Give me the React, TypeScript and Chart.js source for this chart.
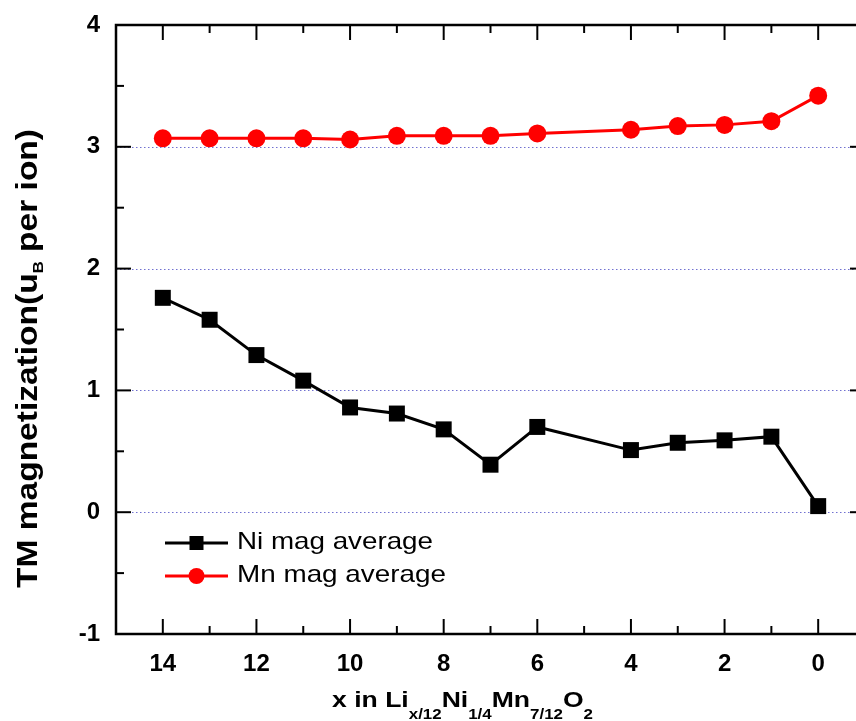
import React, { useEffect, useRef } from 'react';
import { Chart, registerables } from 'chart.js';

Chart.register(...registerables);

// ---- data ----
const xValues = [14, 13, 12, 11, 10, 9, 8, 7, 6, 4, 3, 2, 1, 0];
const niMag = [1.76, 1.58, 1.29, 1.08, 0.86, 0.81, 0.68, 0.39, 0.7, 0.51, 0.57, 0.59, 0.62, 0.05];
const mnMag = [3.07, 3.07, 3.07, 3.07, 3.06, 3.09, 3.09, 3.09, 3.11, 3.14, 3.17, 3.18, 3.21, 3.42];
const seriesNames = ['Ni mag average', 'Mn mag average'];
const xTickValues = [14, 12, 10, 8, 6, 4, 2, 0];
const xMinorTickValues = [13, 11, 9, 7, 5, 3, 1];
const yTickValues = [-1, 0, 1, 2, 3, 4];
const yMinorTickValues = [-0.5, 0.5, 1.5, 2.5, 3.5];
const yGridValues = [0, 1, 2, 3];

const FONT = "'Liberation Sans', Arial, Helvetica, sans-serif";

type Seg = { t: string; sub: boolean };
const xTitleSegs: Seg[] = [
  { t: 'x in Li', sub: false },
  { t: 'x/12', sub: true },
  { t: 'Ni', sub: false },
  { t: '1/4', sub: true },
  { t: 'Mn', sub: false },
  { t: '7/12', sub: true },
  { t: 'O', sub: false },
  { t: '2', sub: true },
];
const yTitleSegs: Seg[] = [
  { t: 'TM magnetization(u', sub: false },
  { t: 'B', sub: true },
  { t: ' per ion)', sub: false },
];

function drawSegs(
  ctx: CanvasRenderingContext2D,
  segs: Seg[],
  mainFont: string,
  subFont: string,
  subOffset: number,
  targetWidth: number
) {
  let total = 0;
  const widths = segs.map((s) => {
    ctx.font = s.sub ? subFont : mainFont;
    const w = ctx.measureText(s.t).width;
    total += w;
    return w;
  });
  const sx = targetWidth / total;
  ctx.save();
  ctx.scale(sx, 1);
  let x = 0;
  segs.forEach((s, i) => {
    ctx.font = s.sub ? subFont : mainFont;
    ctx.fillText(s.t, x, s.sub ? subOffset : 0);
    x += widths[i];
  });
  ctx.restore();
}

const decorPlugin = {
  id: 'decor',
  beforeDatasetsDraw(chart: any) {
    const ctx = chart.ctx as CanvasRenderingContext2D;
    const { left, right } = chart.chartArea;
    const ys = chart.scales.y;
    ctx.save();
    ctx.strokeStyle = '#7070d0';
    ctx.lineWidth = 1;
    ctx.setLineDash([1.5, 2.5]);
    yGridValues.forEach((v) => {
      const py = Math.round(ys.getPixelForValue(v)) + 0.5;
      ctx.beginPath();
      ctx.moveTo(left, py);
      ctx.lineTo(right, py);
      ctx.stroke();
    });
    ctx.restore();
  },
  afterDraw(chart: any) {
    const ctx = chart.ctx as CanvasRenderingContext2D;
    const { left, right, top, bottom } = chart.chartArea;
    const xs = chart.scales.x;
    const ys = chart.scales.y;
    ctx.save();
    // frame
    ctx.strokeStyle = '#000';
    ctx.lineWidth = 2.5;
    ctx.strokeRect(left, top, right - left, bottom - top);
    // ticks
    ctx.lineWidth = 2;
    const tick = (x1: number, y1: number, x2: number, y2: number) => {
      ctx.beginPath();
      ctx.moveTo(x1, y1);
      ctx.lineTo(x2, y2);
      ctx.stroke();
    };
    xTickValues.forEach((v) => {
      const px = xs.getPixelForValue(v);
      tick(px, bottom, px, bottom - 15);
      tick(px, top, px, top + 15);
    });
    xMinorTickValues.forEach((v) => {
      const px = xs.getPixelForValue(v);
      tick(px, bottom, px, bottom - 8);
      tick(px, top, px, top + 8);
    });
    yTickValues.forEach((v) => {
      const py = ys.getPixelForValue(v);
      tick(left, py, left + 15, py);
      tick(right, py, right - 15, py);
    });
    yMinorTickValues.forEach((v) => {
      const py = ys.getPixelForValue(v);
      tick(left, py, left + 8, py);
      tick(right, py, right - 8, py);
    });

    // legend
    const rows = [
      { y: 543, text: seriesNames[0], color: '#000', style: 'rect', base: 549, width: 196 },
      { y: 576, text: seriesNames[1], color: '#ff0000', style: 'circle', base: 582, width: 209 },
    ];
    rows.forEach((r) => {
      ctx.strokeStyle = r.color;
      ctx.fillStyle = r.color;
      ctx.lineWidth = 3;
      ctx.beginPath();
      ctx.moveTo(165, r.y);
      ctx.lineTo(228, r.y);
      ctx.stroke();
      if (r.style === 'rect') {
        ctx.fillRect(196.5 - 7, r.y - 7, 14, 14);
      } else {
        ctx.beginPath();
        ctx.arc(196.5, r.y, 8, 0, Math.PI * 2);
        ctx.fill();
      }
      ctx.fillStyle = '#000';
      ctx.font = `24px ${FONT}`;
      ctx.textBaseline = 'alphabetic';
      ctx.textAlign = 'left';
      const w = ctx.measureText(r.text).width;
      ctx.save();
      ctx.translate(237, r.base);
      ctx.scale(r.width / w, 1);
      ctx.fillText(r.text, 0, 0);
      ctx.restore();
    });

    // x title
    ctx.fillStyle = '#000';
    ctx.textAlign = 'left';
    ctx.textBaseline = 'alphabetic';
    ctx.save();
    ctx.translate(332, 707);
    drawSegs(ctx, xTitleSegs, `bold 22px ${FONT}`, `bold 14px ${FONT}`, 12, 261);
    ctx.restore();

    // y title
    ctx.save();
    ctx.translate(37, 588);
    ctx.rotate(-Math.PI / 2);
    drawSegs(ctx, yTitleSegs, `bold 30px ${FONT}`, `bold 15px ${FONT}`, 6, 459);
    ctx.restore();

    ctx.restore();
  },
};

export default function App() {
  const ref = useRef<HTMLCanvasElement | null>(null);
  useEffect(() => {
    if (!ref.current) return;
    const chart = new Chart(ref.current, {
      type: 'line',
      data: {
        datasets: [
          {
            label: seriesNames[0],
            data: xValues.map((x, i) => ({ x, y: niMag[i] })),
            borderColor: '#000',
            backgroundColor: '#000',
            borderWidth: 3,
            pointStyle: 'rect',
            pointRadius: 11.3,
            pointBorderWidth: 0,
            pointHoverRadius: 11.3,
          },
          {
            label: seriesNames[1],
            data: xValues.map((x, i) => ({ x, y: mnMag[i] })),
            borderColor: '#ff0000',
            backgroundColor: '#ff0000',
            borderWidth: 3,
            pointStyle: 'circle',
            pointRadius: 9,
            pointBorderWidth: 0,
            pointHoverRadius: 9,
          },
        ],
      },
      options: {
        responsive: false,
        maintainAspectRatio: false,
        animation: false,
        devicePixelRatio: 1,
        events: [],
        layout: { padding: { top: 25, right: 15, left: 0, bottom: 0 } },
        plugins: {
          legend: { display: false },
          tooltip: { enabled: false },
        },
        scales: {
          x: {
            type: 'linear',
            reverse: true,
            min: -1,
            max: 15,
            grid: { display: false, drawTicks: false },
            border: { display: false },
            afterBuildTicks: (s: any) => {
              s.ticks = xTickValues.map((v) => ({ value: v }));
            },
            afterFit: (s: any) => {
              s.height = 87;
              s.paddingLeft = 0;
              s.paddingRight = 0;
            },
            ticks: {
              padding: 16,
              color: '#000',
              font: { family: FONT, size: 24, weight: 'bold' },
              maxRotation: 0,
              autoSkip: false,
            },
          },
          y: {
            type: 'linear',
            min: -1,
            max: 4,
            grid: { display: false, drawTicks: false },
            border: { display: false },
            afterBuildTicks: (s: any) => {
              s.ticks = yTickValues.map((v) => ({ value: v }));
            },
            afterFit: (s: any) => {
              s.width = 116;
              s.paddingTop = 0;
              s.paddingBottom = 0;
            },
            ticks: {
              padding: 16,
              color: '#000',
              font: { family: FONT, size: 24, weight: 'bold' },
              autoSkip: false,
            },
          },
        },
      },
      plugins: [decorPlugin],
    });
    return () => chart.destroy();
  }, []);

  return (
    <div
      style={{
        position: 'fixed',
        left: 0,
        top: 0,
        width: 856,
        height: 721,
        overflow: 'hidden',
        background: '#fff',
      }}
    >
      <canvas ref={ref} width={880} height={721} style={{ display: 'block' }} />
    </div>
  );
}
